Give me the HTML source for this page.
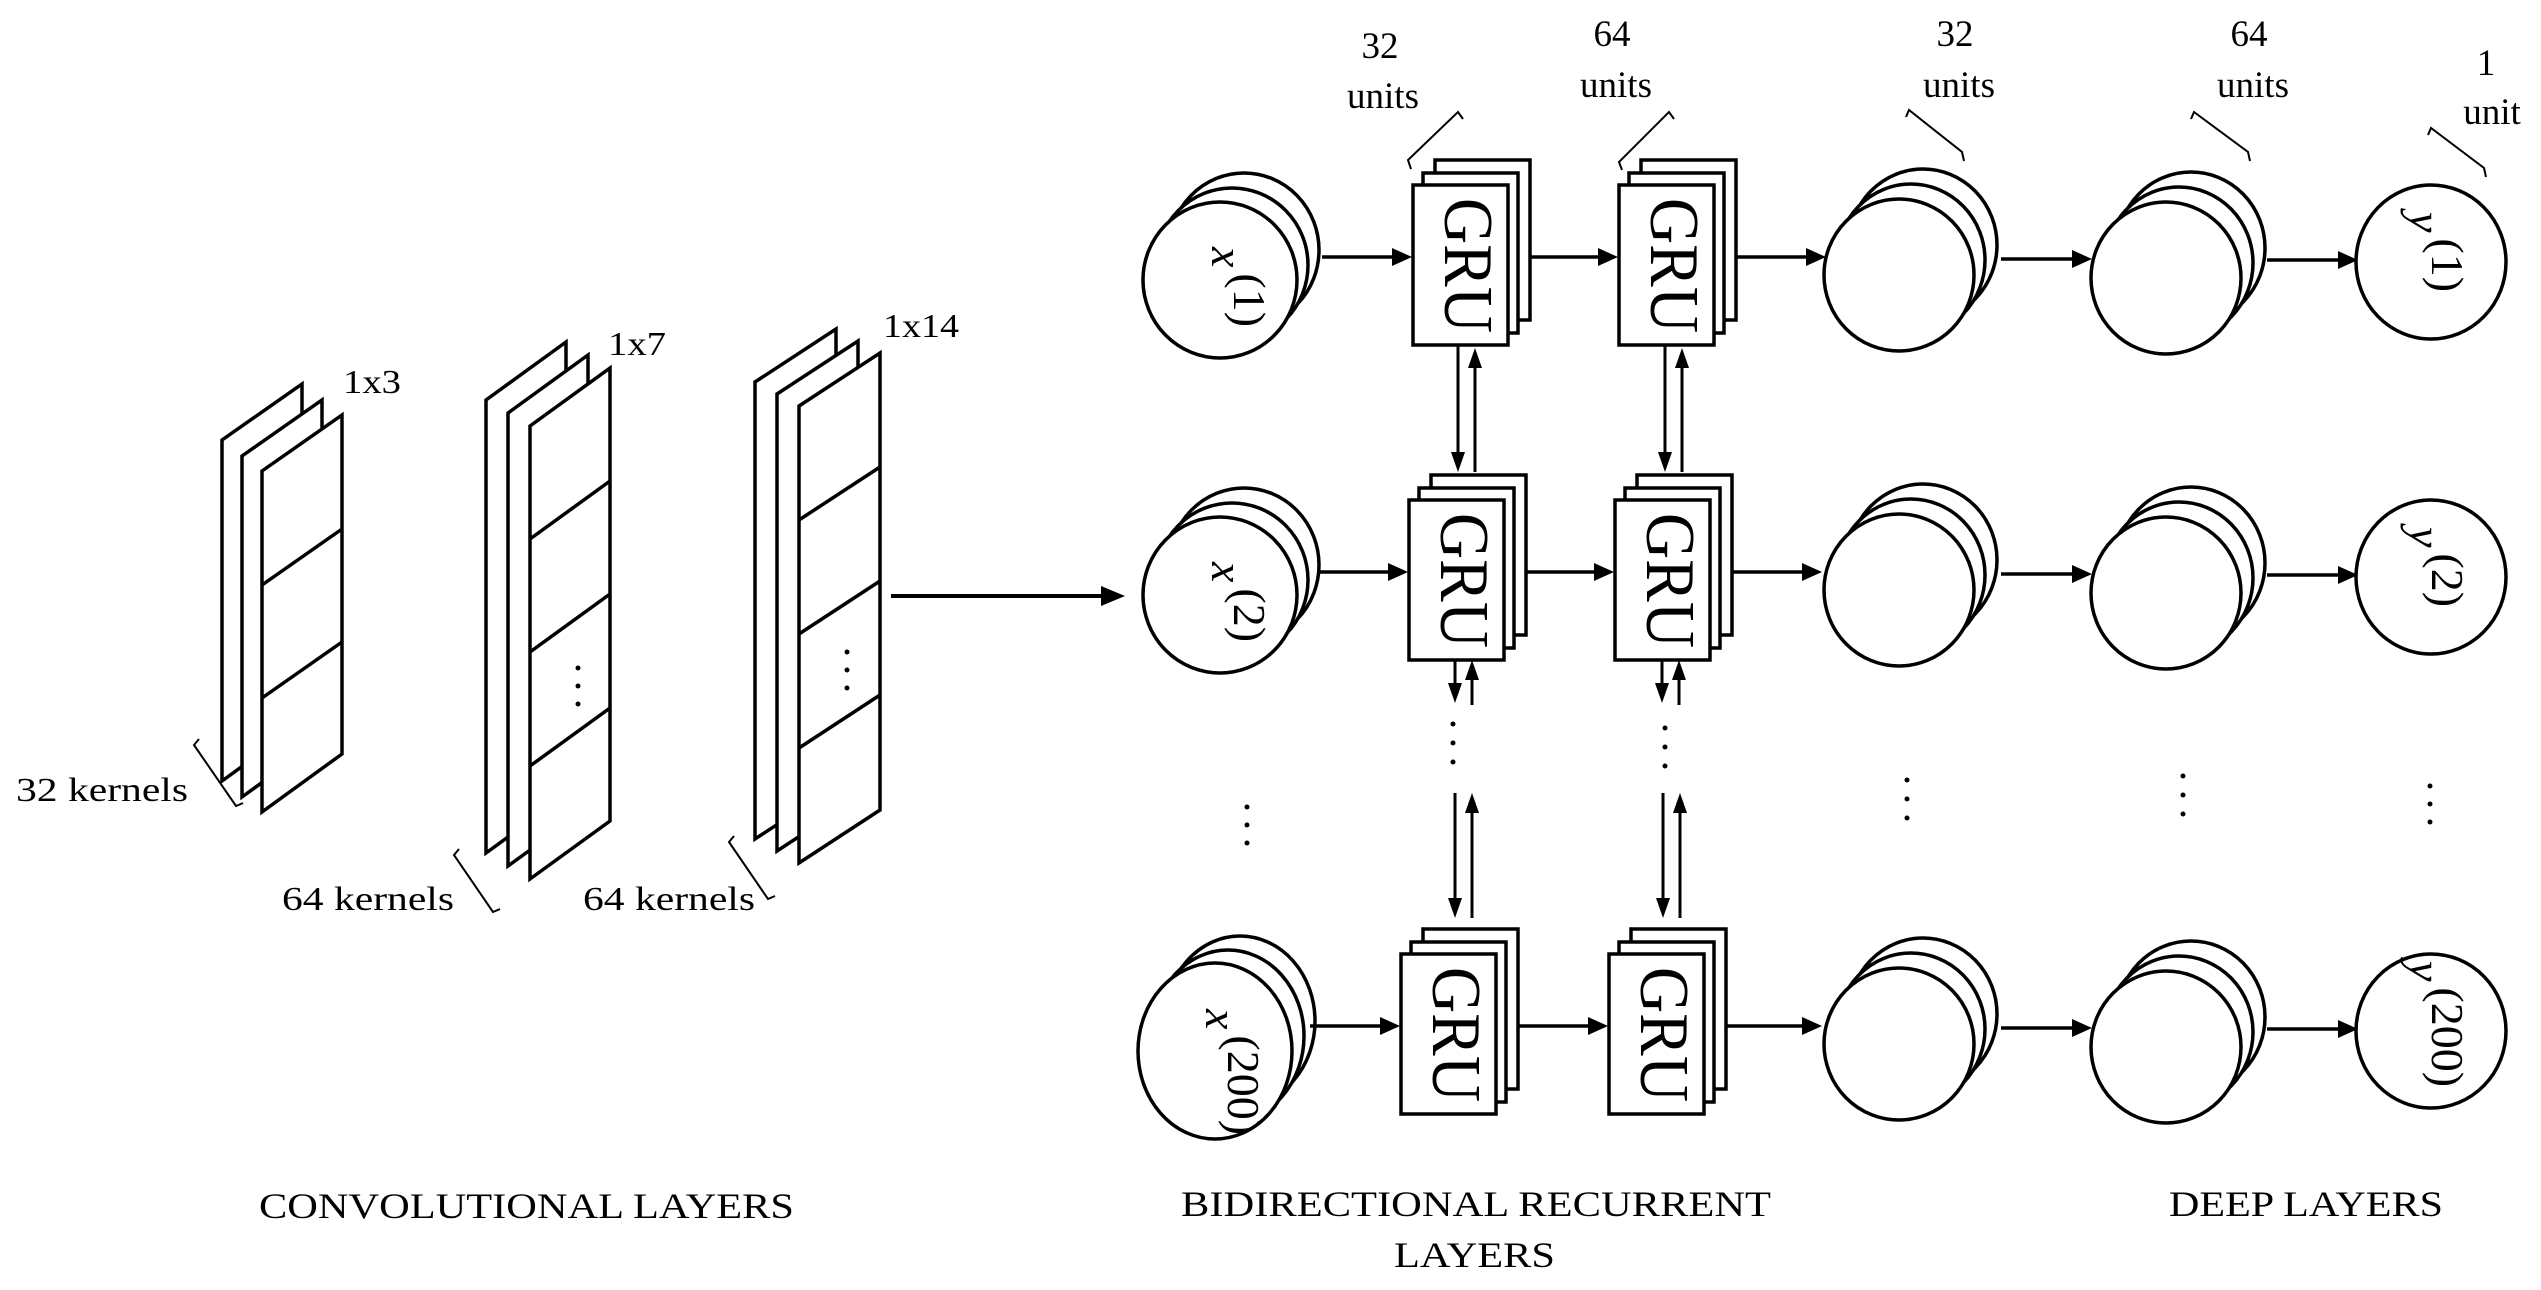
<!DOCTYPE html>
<html><head><meta charset="utf-8"><style>
html,body{margin:0;padding:0;background:#fff;}
svg{display:block;}
text{font-family:"Liberation Serif",serif;fill:#000;}
</style></head><body>
<svg width="2541" height="1290" viewBox="0 0 2541 1290" xmlns="http://www.w3.org/2000/svg">
<defs>
<marker id="ah" markerWidth="10" markerHeight="10" refX="9" refY="5" orient="auto" markerUnits="userSpaceOnUse" viewBox="0 0 10 10">
</marker>
</defs>
<g fill="#fff" stroke="#000" stroke-width="3.5" stroke-linejoin="miter">
<!-- conv1 -->
<polygon points="222,440 302,384 302,723 222,781"/>
<polygon points="242,456 322,400 322,739 242,797"/>
<polygon points="262,471 342,415 342,754 262,812"/>
<line x1="262" y1="585" x2="342" y2="529"/><line x1="262" y1="698" x2="342" y2="642"/>
<!-- conv2 -->
<polygon points="486,400 566,342 566,795 486,853"/>
<polygon points="508,413 588,355 588,808 508,866"/>
<polygon points="530,426 610,368 610,821 530,879"/>
<line x1="530" y1="539" x2="610" y2="481"/><line x1="530" y1="652" x2="610" y2="594"/><line x1="530" y1="766" x2="610" y2="708"/>
<!-- conv3 -->
<polygon points="755,382 836,329 836,786 755,839"/>
<polygon points="777,394 858,341 858,798 777,851"/>
<polygon points="799,406 880,353 880,810 799,863"/>
<line x1="799" y1="520" x2="880" y2="467"/><line x1="799" y1="634" x2="880" y2="581"/><line x1="799" y1="748" x2="880" y2="695"/>
</g>
<g fill="#000">
<circle cx="578" cy="668" r="2.5"/><circle cx="578" cy="686" r="2.5"/><circle cx="578" cy="704" r="2.5"/>
<circle cx="847" cy="652" r="2.5"/><circle cx="847" cy="670" r="2.5"/><circle cx="847" cy="688" r="2.5"/>
</g>
<!-- kernel brackets -->
<g fill="none" stroke="#000" stroke-width="2">
<polyline points="199,739 194,745 236,806 243,803"/>
<polyline points="459,849 454,855 493,912 500,909"/>
<polyline points="734,836 729,842 768,899 775,896"/>
</g>
<text x="16" y="801" font-size="34" textLength="172" lengthAdjust="spacingAndGlyphs">32 kernels</text>
<text x="282" y="910" font-size="34" textLength="172" lengthAdjust="spacingAndGlyphs">64 kernels</text>
<text x="583" y="910" font-size="34" textLength="172" lengthAdjust="spacingAndGlyphs">64 kernels</text>
<text x="343" y="393" font-size="34" textLength="58" lengthAdjust="spacingAndGlyphs">1x3</text>
<text x="608" y="355" font-size="34" textLength="58" lengthAdjust="spacingAndGlyphs">1x7</text>
<text x="883" y="337" font-size="34" textLength="76" lengthAdjust="spacingAndGlyphs">1x14</text>
<!-- main arrow -->
<line x1="891" y1="596" x2="1105" y2="596" stroke="#000" stroke-width="4"/>
<polygon points="1125,596 1101,586 1101,606" fill="#000"/>

<!-- ROW TEMPLATE repeated -->
<g id="rows" stroke="#000" stroke-width="3.5" fill="#fff">
</g>
<!-- Row 1 -->
<g transform="translate(0,0)">
 <g fill="#fff" stroke="#000" stroke-width="3.5">
  <ellipse cx="1244" cy="250" rx="75" ry="77"/><ellipse cx="1232" cy="265" rx="76" ry="77"/><ellipse cx="1220" cy="280" rx="77" ry="78"/>
  <rect x="1435" y="160" width="95" height="160"/><rect x="1423" y="173" width="95" height="160"/><rect x="1413" y="185" width="95" height="160"/>
  <rect x="1641" y="160" width="95" height="160"/><rect x="1629" y="173" width="95" height="160"/><rect x="1619" y="185" width="95" height="160"/>
  <ellipse cx="1923" cy="245" rx="74" ry="76"/><ellipse cx="1911" cy="260" rx="74" ry="76"/><ellipse cx="1899" cy="275" rx="75" ry="76"/>
  <ellipse cx="2191" cy="248" rx="74" ry="76"/><ellipse cx="2179" cy="263" rx="74" ry="76"/><ellipse cx="2166" cy="278" rx="75" ry="76"/>
  <ellipse cx="2431" cy="262" rx="75" ry="77"/>
 </g>
 <g stroke="#000" stroke-width="3.5">
  <line x1="1322" y1="257" x2="1395" y2="257"/><line x1="1530" y1="257" x2="1600" y2="257"/><line x1="1736" y1="257" x2="1808" y2="257"/><line x1="2001" y1="259" x2="2074" y2="259"/><line x1="2267" y1="260" x2="2340" y2="260"/>
 </g>
 <g fill="#000">
  <polygon points="1412,257 1392,248 1392,266"/><polygon points="1618,257 1598,248 1598,266"/><polygon points="1826,257 1806,248 1806,266"/><polygon points="2092,259 2072,250 2072,268"/><polygon points="2358,260 2338,251 2338,269"/>
 </g>
 <text transform="translate(1445,198) rotate(90)" font-size="70" textLength="135" lengthAdjust="spacingAndGlyphs">GRU</text>
 <text transform="translate(1651,198) rotate(90)" font-size="70" textLength="135" lengthAdjust="spacingAndGlyphs">GRU</text>
 <text transform="translate(1212,247) rotate(90)" font-size="46"><tspan font-style="italic">x</tspan><tspan dx="6" dy="-22">(1)</tspan></text>
 <text transform="translate(2410,212) rotate(90)" font-size="46"><tspan font-style="italic">y</tspan><tspan dx="6" dy="-22">(1)</tspan></text>
</g>
<!-- Row 2 -->
<g transform="translate(-4,315)">
 <g fill="#fff" stroke="#000" stroke-width="3.5">
  <ellipse cx="1248" cy="250" rx="75" ry="77"/><ellipse cx="1236" cy="265" rx="76" ry="77"/><ellipse cx="1224" cy="280" rx="77" ry="78"/>
  <rect x="1435" y="160" width="95" height="160"/><rect x="1423" y="173" width="95" height="160"/><rect x="1413" y="185" width="95" height="160"/>
  <rect x="1641" y="160" width="95" height="160"/><rect x="1629" y="173" width="95" height="160"/><rect x="1619" y="185" width="95" height="160"/>
  <ellipse cx="1927" cy="245" rx="74" ry="76"/><ellipse cx="1915" cy="260" rx="74" ry="76"/><ellipse cx="1903" cy="275" rx="75" ry="76"/>
  <ellipse cx="2195" cy="248" rx="74" ry="76"/><ellipse cx="2183" cy="263" rx="74" ry="76"/><ellipse cx="2170" cy="278" rx="75" ry="76"/>
  <ellipse cx="2435" cy="262" rx="75" ry="77"/>
 </g>
 <g stroke="#000" stroke-width="3.5">
  <line x1="1322" y1="257" x2="1395" y2="257"/><line x1="1530" y1="257" x2="1600" y2="257"/><line x1="1736" y1="257" x2="1808" y2="257"/><line x1="2005" y1="259" x2="2078" y2="259"/><line x1="2271" y1="260" x2="2344" y2="260"/>
 </g>
 <g fill="#000">
  <polygon points="1412,257 1392,248 1392,266"/><polygon points="1618,257 1598,248 1598,266"/><polygon points="1826,257 1806,248 1806,266"/><polygon points="2096,259 2076,250 2076,268"/><polygon points="2362,260 2342,251 2342,269"/>
 </g>
 <text transform="translate(1445,198) rotate(90)" font-size="70" textLength="135" lengthAdjust="spacingAndGlyphs">GRU</text>
 <text transform="translate(1651,198) rotate(90)" font-size="70" textLength="135" lengthAdjust="spacingAndGlyphs">GRU</text>
 <text transform="translate(1216,247) rotate(90)" font-size="46"><tspan font-style="italic">x</tspan><tspan dx="6" dy="-22">(2)</tspan></text>
 <text transform="translate(2414,212) rotate(90)" font-size="46"><tspan font-style="italic">y</tspan><tspan dx="6" dy="-22">(2)</tspan></text>
</g>
<!-- Row 3 -->
<g transform="translate(-8,769)">
 <g fill="#fff" stroke="#000" stroke-width="3.5">
  <ellipse cx="1248" cy="252" rx="75" ry="85"/><ellipse cx="1236" cy="267" rx="76" ry="86"/><ellipse cx="1223" cy="282" rx="77" ry="88"/>
  <rect x="1431" y="160" width="95" height="160"/><rect x="1419" y="173" width="95" height="160"/><rect x="1409" y="185" width="95" height="160"/>
  <rect x="1639" y="160" width="95" height="160"/><rect x="1627" y="173" width="95" height="160"/><rect x="1617" y="185" width="95" height="160"/>
  <ellipse cx="1931" cy="245" rx="74" ry="76"/><ellipse cx="1919" cy="260" rx="74" ry="76"/><ellipse cx="1907" cy="275" rx="75" ry="76"/>
  <ellipse cx="2199" cy="248" rx="74" ry="76"/><ellipse cx="2187" cy="263" rx="74" ry="76"/><ellipse cx="2174" cy="278" rx="75" ry="76"/>
  <ellipse cx="2439" cy="262" rx="75" ry="77"/>
 </g>
 <g stroke="#000" stroke-width="3.5">
  <line x1="1318" y1="257" x2="1391" y2="257"/><line x1="1526" y1="257" x2="1598" y2="257"/><line x1="1734" y1="257" x2="1812" y2="257"/><line x1="2009" y1="259" x2="2082" y2="259"/><line x1="2275" y1="260" x2="2348" y2="260"/>
 </g>
 <g fill="#000">
  <polygon points="1408,257 1388,248 1388,266"/><polygon points="1616,257 1596,248 1596,266"/><polygon points="1830,257 1810,248 1810,266"/><polygon points="2100,259 2080,250 2080,268"/><polygon points="2366,260 2346,251 2346,269"/>
 </g>
 <text transform="translate(1441,198) rotate(90)" font-size="70" textLength="135" lengthAdjust="spacingAndGlyphs">GRU</text>
 <text transform="translate(1649,198) rotate(90)" font-size="70" textLength="135" lengthAdjust="spacingAndGlyphs">GRU</text>
 <text transform="translate(1214,240) rotate(90)" font-size="46"><tspan font-style="italic">x</tspan><tspan dx="6" dy="-22">(200)</tspan></text>
 <text transform="translate(2418,192) rotate(90)" font-size="46"><tspan font-style="italic">y</tspan><tspan dx="6" dy="-22">(200)</tspan></text>
</g>

<!-- vertical bidirectional arrows -->
<g stroke="#000" stroke-width="3">
 <line x1="1458" y1="345" x2="1458" y2="455"/><line x1="1475" y1="365" x2="1475" y2="472"/>
 <line x1="1665" y1="345" x2="1665" y2="455"/><line x1="1682" y1="365" x2="1682" y2="472"/>
 <line x1="1455" y1="660" x2="1455" y2="685"/><line x1="1472" y1="675" x2="1472" y2="705"/>
 <line x1="1662" y1="660" x2="1662" y2="685"/><line x1="1679" y1="675" x2="1679" y2="705"/>
 <line x1="1455" y1="793" x2="1455" y2="900"/><line x1="1472" y1="810" x2="1472" y2="918"/>
 <line x1="1663" y1="793" x2="1663" y2="900"/><line x1="1680" y1="810" x2="1680" y2="918"/>
</g>
<g fill="#000">
 <polygon points="1458,472 1451,452 1465,452"/><polygon points="1475,348 1468,368 1482,368"/>
 <polygon points="1665,472 1658,452 1672,452"/><polygon points="1682,348 1675,368 1689,368"/>
 <polygon points="1455,703 1448,683 1462,683"/><polygon points="1472,660 1465,680 1479,680"/>
 <polygon points="1662,703 1655,683 1669,683"/><polygon points="1679,660 1672,680 1686,680"/>
 <polygon points="1455,918 1448,898 1462,898"/><polygon points="1472,793 1465,813 1479,813"/>
 <polygon points="1663,918 1656,898 1670,898"/><polygon points="1680,793 1673,813 1687,813"/>
</g>
<!-- dots -->
<g fill="#000">
 <circle cx="1453" cy="724" r="2.5"/><circle cx="1453" cy="743" r="2.5"/><circle cx="1453" cy="762" r="2.5"/>
 <circle cx="1665" cy="728" r="2.5"/><circle cx="1665" cy="747" r="2.5"/><circle cx="1665" cy="766" r="2.5"/>
 <circle cx="1247" cy="807" r="2.5"/><circle cx="1247" cy="825" r="2.5"/><circle cx="1247" cy="843" r="2.5"/>
 <circle cx="1907" cy="780" r="2.5"/><circle cx="1907" cy="799" r="2.5"/><circle cx="1907" cy="818" r="2.5"/>
 <circle cx="2183" cy="776" r="2.5"/><circle cx="2183" cy="795" r="2.5"/><circle cx="2183" cy="814" r="2.5"/>
 <circle cx="2430" cy="786" r="2.5"/><circle cx="2430" cy="804" r="2.5"/><circle cx="2430" cy="822" r="2.5"/>
</g>
<!-- unit brackets -->
<g fill="none" stroke="#000" stroke-width="2">
 <polyline points="1411,169 1408,160 1458,112 1463,119"/>
 <polyline points="1622,170 1619,162 1669,112 1674,119"/>
 <polyline points="1906,117 1909,110 1962,152 1964,161"/>
 <polyline points="2191,119 2194,112 2248,152 2250,161"/>
 <polyline points="2428,135 2431,128 2484,168 2486,177"/>
</g>
<g font-size="37" text-anchor="middle">
 <text x="1380" y="58">32</text><text x="1383" y="108">units</text>
 <text x="1612" y="46">64</text><text x="1616" y="97">units</text>
 <text x="1955" y="46">32</text><text x="1959" y="97">units</text>
 <text x="2249" y="46">64</text><text x="2253" y="97">units</text>
 <text x="2486" y="75">1</text><text x="2492" y="124">unit</text>
</g>
<!-- section labels -->
<text x="259" y="1218" font-size="36" textLength="535" lengthAdjust="spacingAndGlyphs">CONVOLUTIONAL LAYERS</text>
<text x="1181" y="1216" font-size="36" textLength="590" lengthAdjust="spacingAndGlyphs">BIDIRECTIONAL RECURRENT</text>
<text x="1394" y="1267" font-size="36" textLength="161" lengthAdjust="spacingAndGlyphs">LAYERS</text>
<text x="2169" y="1216" font-size="36" textLength="274" lengthAdjust="spacingAndGlyphs">DEEP LAYERS</text>
</svg>
</body></html>
